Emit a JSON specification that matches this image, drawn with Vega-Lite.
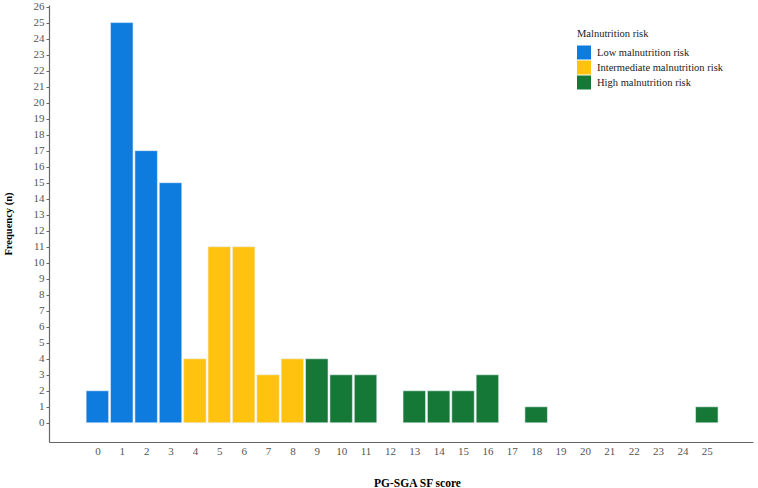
{
  "$schema": "https://vega.github.io/schema/vega-lite/v6.json",
  "width": 704,
  "height": 437,
  "autosize": "none",
  "padding": {"left": 49, "top": 5, "right": 5, "bottom": 46},
  "background": "white",
  "config": {
    "font": "Liberation Serif",
    "view": {"stroke": null}
  },
  "data": {
    "values": [
      {"score": 0, "n": 2, "risk": "Low malnutrition risk"},
      {"score": 1, "n": 25, "risk": "Low malnutrition risk"},
      {"score": 2, "n": 17, "risk": "Low malnutrition risk"},
      {"score": 3, "n": 15, "risk": "Low malnutrition risk"},
      {"score": 4, "n": 4, "risk": "Intermediate malnutrition risk"},
      {"score": 5, "n": 11, "risk": "Intermediate malnutrition risk"},
      {"score": 6, "n": 11, "risk": "Intermediate malnutrition risk"},
      {"score": 7, "n": 3, "risk": "Intermediate malnutrition risk"},
      {"score": 8, "n": 4, "risk": "Intermediate malnutrition risk"},
      {"score": 9, "n": 4, "risk": "High malnutrition risk"},
      {"score": 10, "n": 3, "risk": "High malnutrition risk"},
      {"score": 11, "n": 3, "risk": "High malnutrition risk"},
      {"score": 13, "n": 2, "risk": "High malnutrition risk"},
      {"score": 14, "n": 2, "risk": "High malnutrition risk"},
      {"score": 15, "n": 2, "risk": "High malnutrition risk"},
      {"score": 16, "n": 3, "risk": "High malnutrition risk"},
      {"score": 18, "n": 1, "risk": "High malnutrition risk"},
      {"score": 25, "n": 1, "risk": "High malnutrition risk"}
    ]
  },
  "mark": {"type": "bar", "width": 22.5, "stroke": "#e8f0f8", "strokeWidth": 0.6},
  "encoding": {
    "x": {
      "field": "score",
      "type": "quantitative",
      "scale": {"domain": [-1.78, 26.69], "nice": false, "zero": false},
      "axis": {
        "title": "PG-SGA SF score",
        "titleFont": "Liberation Serif",
        "titleFontSize": 11.5,
        "titleFontWeight": "bold",
        "titleColor": "#000000",
        "titlePadding": 21,
        "titleX": 368,
        "values": [0,1,2,3,4,5,6,7,8,9,10,11,12,13,14,15,16,17,18,19,20,21,22,23,24,25],
        "format": "d",
        "labelAngle": 0,
        "labelFontSize": 11,
        "labelColor": "#555555",
        "labelPadding": 3,
        "labelOverlap": false,
        "labelFlush": false,
        "ticks": false,
        "domainColor": "#666666",
        "domainWidth": 1.2,
        "grid": false
      }
    },
    "y": {
      "field": "n",
      "type": "quantitative",
      "scale": {"domain": [-1.2, 26.1], "nice": false, "zero": false},
      "axis": {
        "title": "Frequency (n)",
        "titleFont": "Liberation Serif",
        "titleFontSize": 10.5,
        "titleFontWeight": "bold",
        "titleColor": "#000000",
        "titlePadding": 20,
        "values": [0,1,2,3,4,5,6,7,8,9,10,11,12,13,14,15,16,17,18,19,20,21,22,23,24,25,26],
        "labelFontSize": 11,
        "labelColor": "#555555",
        "labelPadding": 2,
        "labelOverlap": false,
        "labelFlush": false,
        "tickSize": 3,
        "tickColor": "#666666",
        "domainColor": "#666666",
        "domainWidth": 1.2,
        "grid": false
      }
    },
    "color": {
      "field": "risk",
      "type": "nominal",
      "scale": {
        "domain": ["Low malnutrition risk", "Intermediate malnutrition risk", "High malnutrition risk"],
        "range": ["#0E7BDE", "#FFC20E", "#167836"]
      },
      "legend": {
        "title": "Malnutrition risk",
        "orient": "none",
        "legendX": 528,
        "legendY": 24,
        "titleFont": "Liberation Serif",
        "titleFontSize": 10.5,
        "titleFontWeight": "normal",
        "titleColor": "#222222",
        "titlePadding": 6,
        "labelFont": "Liberation Serif",
        "labelFontSize": 10.5,
        "labelColor": "#222222",
        "labelOffset": 6,
        "symbolType": "square",
        "symbolSize": 196,
        "symbolStrokeWidth": 0,
        "rowPadding": 1
      }
    }
  }
}
